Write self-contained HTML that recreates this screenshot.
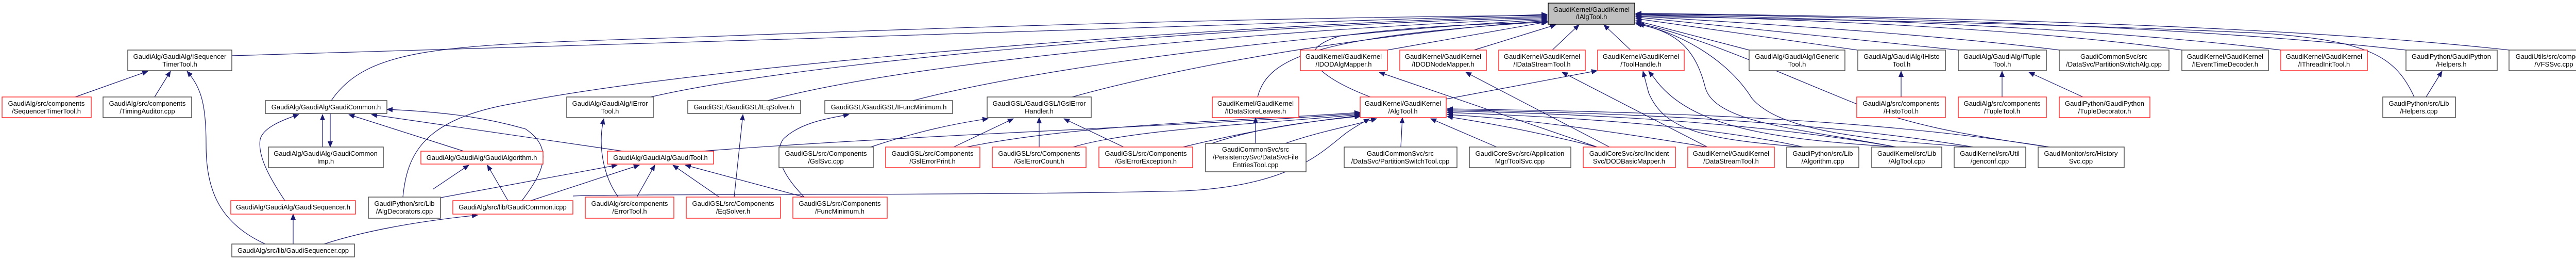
<!DOCTYPE html>
<html><head><meta charset="utf-8"><style>
html,body{margin:0;padding:0;background:#fff}
svg{display:block}
text{font-family:"Liberation Sans",sans-serif;font-size:13px;fill:#000;text-anchor:middle}
.b{fill:#fff;stroke:#404040;stroke-width:1.4}
.r{fill:#fff;stroke:#ff2020;stroke-width:1.4}
.g{fill:#bfbfbf;stroke:#000;stroke-width:1.4}
.e{fill:none;stroke:#191970;stroke-width:1.2}
</style></head><body>
<svg width="5048" height="504" viewBox="0 0 5048 504" xmlns="http://www.w3.org/2000/svg">
<defs><marker id="a" markerUnits="userSpaceOnUse" markerWidth="12" markerHeight="10" refX="11" refY="5" orient="auto"><path d="M0,0 L12,5 L0,10 z" fill="#191970"/></marker></defs>

<g marker-end="url(#a)">
<!-- into IAlgTool left -->
<path class="e" d="M450,108 C1200,90 2400,45 3003,28"/>
<path class="e" d="M643,195 C720,80 900,88 1400,70 C2200,40 2700,32 3003,30"/>
<path class="e" d="M782,382 C790,300 820,230 1000,200 C1400,120 2500,40 3003,32"/>
<path class="e" d="M1263,188 C1600,110 2500,45 3003,34"/>
<path class="e" d="M1490,195 C1800,110 2600,50 3003,36"/>
<path class="e" d="M1772,195 C2100,110 2700,55 3003,38"/>
<path class="e" d="M2081,188 C2400,100 2800,55 3003,40"/>
<path class="e" d="M2441,188 C2460,110 2560,70 3003,42"/>
<path class="e" d="M2660,188 C2560,150 2500,100 2600,70 C2750,50 2900,45 3003,44"/>
<path class="e" d="M2693,97 L3005,42"/>
<path class="e" d="M2861,97 L3020,48"/>
<path class="e" d="M3013,97 L3065,48"/>
<path class="e" d="M3165,97 L3113,48"/>
<!-- into IAlgTool right -->
<path class="e" d="M3395,97 L3175,40"/>
<path class="e" d="M3605,97 L3175,36"/>
<path class="e" d="M3801,97 L3175,33"/>
<path class="e" d="M3997,97 C3700,60 3300,40 3175,31"/>
<path class="e" d="M4235,97 C3900,50 3400,35 3175,29"/>
<path class="e" d="M4427,97 C4000,45 3400,32 3175,28"/>
<path class="e" d="M4670,97 C4200,45 3500,30 3175,27"/>
<path class="e" d="M4870,97 C4400,45 3600,30 3175,26"/>
<path class="e" d="M4686,188 C4650,110 4600,80 4400,65 C4000,45 3400,35 3175,32"/>
<path class="e" d="M3978,285 C3800,260 3700,240 3600,200 C3450,140 3300,70 3175,44"/>
<path class="e" d="M3680,285 C3500,250 3330,240 3310,170 C3290,90 3250,60 3175,46"/>
<path class="e" d="M3830,285 C3600,270 3450,250 3400,190 C3350,110 3250,60 3180,47"/>
<!-- ISequencerTimerTool -->
<path class="e" d="M146,188 L287,138"/>
<path class="e" d="M300,188 L331,138"/>
<path class="e" d="M515,473 C420,430 400,360 400,280 C400,200 390,170 363,138"/>
<!-- GaudiCommon -->
<path class="e" d="M626,285 L626,222"/>
<path class="e" d="M641,220 L641,285"/>
<path class="e" d="M553,389 C520,340 500,300 505,270 C510,250 540,235 580,222"/>
<path class="e" d="M900,293 L677,222"/>
<path class="e" d="M1209,293 L721,222"/>
<path class="e" d="M1013,389 C1050,340 1080,290 1020,250 C950,230 880,218 751,212"/>
<path class="e" d="M569,473 L569,415"/>
<path class="e" d="M629,473 C700,450 800,430 927,417"/>
<!-- GaudiAlgorithm.h -->
<path class="e" d="M840,367 L910,320"/>
<path class="e" d="M986,389 L946,320"/>
<!-- GaudiTool.h -->
<path class="e" d="M856,383 L1198,320"/>
<path class="e" d="M1030,389 L1241,320"/>
<path class="e" d="M1236,382 L1271,320"/>
<path class="e" d="M1396,382 L1306,320"/>
<path class="e" d="M1561,382 L1330,320"/>
<!-- ErrorTool/EqSolver/FuncMinimum -->
<path class="e" d="M1200,382 C1170,340 1160,280 1172,230"/>
<path class="e" d="M1425,382 L1442,222"/>
<path class="e" d="M1561,382 C1520,340 1500,300 1520,270 C1550,240 1600,230 1648,222"/>
<!-- IGslErrorHandler -->
<path class="e" d="M1690,285 C1780,255 1850,240 1918,230"/>
<path class="e" d="M1851,285 L1967,230"/>
<path class="e" d="M2017,285 L2017,228"/>
<path class="e" d="M2181,285 L2065,230"/>
<!-- AlgTool.h -->
<path class="e" d="M1363,293 C1800,260 2300,245 2640,220"/>
<path class="e" d="M1876,285 C2100,240 2400,235 2640,218"/>
<path class="e" d="M2083,285 C2200,250 2450,240 2640,222"/>
<path class="e" d="M2296,285 C2400,260 2500,240 2640,224"/>
<path class="e" d="M1112,380 C1200,375 1900,380 2300,370 C2500,360 2560,300 2610,260 C2630,245 2645,238 2658,230"/>
<path class="e" d="M2495,278 C2560,255 2620,245 2672,230"/>
<path class="e" d="M2719,285 L2722,228"/>
<path class="e" d="M2905,285 L2777,230"/>
<path class="e" d="M3100,285 C3000,260 2900,240 2809,226"/>
<path class="e" d="M3314,285 C3100,250 2950,230 2809,222"/>
<path class="e" d="M3500,285 C3300,240 3000,225 2809,218"/>
<path class="e" d="M3680,285 C3400,235 3050,220 2809,215"/>
<path class="e" d="M3830,285 C3500,230 3100,218 2809,213"/>
<path class="e" d="M3978,285 C3600,225 3150,216 2809,211"/>
<path class="e" d="M2352,278 C2450,245 2550,235 2641,225"/>
<!-- IDataStoreLeaves -->
<path class="e" d="M2437,278 L2437,228"/>
<!-- ToolHandle -->
<path class="e" d="M2807,192 L3100,137"/>
<path class="e" d="M3500,285 C3300,270 3230,250 3200,180 L3189,138"/>
<path class="e" d="M3680,285 C3450,270 3280,250 3210,150 L3200,138"/>
<!-- IDOD mappers / IDataStreamTool -->
<path class="e" d="M3100,285 L2677,140"/>
<path class="e" d="M3124,285 L2845,140"/>
<path class="e" d="M3314,285 L3032,140"/>
<!-- Histo/Tuple -->
<path class="e" d="M3690,188 L3690,138"/>
<path class="e" d="M3886,188 L3886,138"/>
<path class="e" d="M4043,188 L3938,140"/>
<!-- Helpers -->
<path class="e" d="M4709,188 L4740,138"/>
</g>

<!-- nodes -->
<rect class="g" x="3005" y="6" width="168" height="41"/><text x="3089" y="23">GaudiKernel/GaudiKernel</text><text x="3089" y="37">/IAlgTool.h</text>

<rect class="b" x="248" y="97" width="202" height="40"/><text x="349" y="114">GaudiAlg/GaudiAlg/ISequencer</text><text x="349" y="129">TimerTool.h</text>
<rect class="r" x="2524" y="97" width="169" height="40"/><text x="2608" y="114">GaudiKernel/GaudiKernel</text><text x="2608" y="129">/IDODAlgMapper.h</text>
<rect class="r" x="2717" y="97" width="168" height="40"/><text x="2801" y="114">GaudiKernel/GaudiKernel</text><text x="2801" y="129">/IDODNodeMapper.h</text>
<rect class="r" x="2909" y="97" width="168" height="40"/><text x="2993" y="114">GaudiKernel/GaudiKernel</text><text x="2993" y="129">/IDataStreamTool.h</text>
<rect class="r" x="3101" y="97" width="168" height="40"/><text x="3185" y="114">GaudiKernel/GaudiKernel</text><text x="3185" y="129">/ToolHandle.h</text>
<rect class="b" x="3395" y="97" width="186" height="40"/><text x="3488" y="114">GaudiAlg/GaudiAlg/IGeneric</text><text x="3488" y="129">Tool.h</text>
<rect class="b" x="3606" y="97" width="170" height="40"/><text x="3691" y="114">GaudiAlg/GaudiAlg/IHisto</text><text x="3691" y="129">Tool.h</text>
<rect class="b" x="3801" y="97" width="171" height="40"/><text x="3886" y="114">GaudiAlg/GaudiAlg/ITuple</text><text x="3886" y="129">Tool.h</text>
<rect class="b" x="3997" y="97" width="213" height="40"/><text x="4103" y="114">GaudiCommonSvc/src</text><text x="4103" y="129">/DataSvc/PartitionSwitchAlg.cpp</text>
<rect class="b" x="4235" y="97" width="168" height="40"/><text x="4319" y="114">GaudiKernel/GaudiKernel</text><text x="4319" y="129">/IEventTimeDecoder.h</text>
<rect class="r" x="4427" y="97" width="168" height="40"/><text x="4511" y="114">GaudiKernel/GaudiKernel</text><text x="4511" y="129">/IThreadInitTool.h</text>
<rect class="b" x="4670" y="97" width="177" height="40"/><text x="4758" y="114">GaudiPython/GaudiPython</text><text x="4758" y="129">/Helpers.h</text>
<rect class="b" x="4870" y="97" width="174" height="40"/><text x="4957" y="114">GaudiUtils/src/component</text><text x="4957" y="129">/VFSSvc.cpp</text>

<rect class="r" x="4" y="188" width="173" height="40"/><text x="90" y="205">GaudiAlg/src/components</text><text x="90" y="220">/SequencerTimerTool.h</text>
<rect class="b" x="200" y="188" width="172" height="40"/><text x="286" y="205">GaudiAlg/src/components</text><text x="286" y="220">/TimingAuditor.cpp</text>
<rect class="b" x="515" y="195" width="236" height="25"/><text x="633" y="212">GaudiAlg/GaudiAlg/GaudiCommon.h</text>
<rect class="b" x="1100" y="188" width="168" height="40"/><text x="1184" y="205">GaudiAlg/GaudiAlg/IError</text><text x="1184" y="220">Tool.h</text>
<rect class="b" x="1335" y="195" width="219" height="25"/><text x="1444" y="212">GaudiGSL/GaudiGSL/IEqSolver.h</text>
<rect class="b" x="1601" y="195" width="248" height="25"/><text x="1725" y="212">GaudiGSL/GaudiGSL/IFuncMinimum.h</text>
<rect class="b" x="1916" y="188" width="202" height="40"/><text x="2017" y="205">GaudiGSL/GaudiGSL/IGslError</text><text x="2017" y="220">Handler.h</text>
<rect class="r" x="2353" y="188" width="168" height="40"/><text x="2437" y="205">GaudiKernel/GaudiKernel</text><text x="2437" y="220">/IDataStoreLeaves.h</text>
<rect class="r" x="2640" y="188" width="167" height="40"/><text x="2723" y="205">GaudiKernel/GaudiKernel</text><text x="2723" y="220">/AlgTool.h</text>
<rect class="r" x="3604" y="188" width="172" height="40"/><text x="3690" y="205">GaudiAlg/src/components</text><text x="3690" y="220">/HistoTool.h</text>
<rect class="r" x="3801" y="188" width="171" height="40"/><text x="3886" y="205">GaudiAlg/src/components</text><text x="3886" y="220">/TupleTool.h</text>
<rect class="r" x="3997" y="188" width="176" height="40"/><text x="4085" y="205">GaudiPython/GaudiPython</text><text x="4085" y="220">/TupleDecorator.h</text>
<rect class="b" x="4625" y="188" width="141" height="40"/><text x="4695" y="205">GaudiPython/src/Lib</text><text x="4695" y="220">/Helpers.cpp</text>

<rect class="b" x="521" y="285" width="223" height="40"/><text x="632" y="302">GaudiAlg/GaudiAlg/GaudiCommon</text><text x="632" y="317">Imp.h</text>
<rect class="r" x="817" y="293" width="237" height="25"/><text x="935" y="310">GaudiAlg/GaudiAlg/GaudiAlgorithm.h</text>
<rect class="r" x="1179" y="293" width="206" height="25"/><text x="1282" y="310">GaudiAlg/GaudiAlg/GaudiTool.h</text>
<rect class="b" x="1512" y="285" width="183" height="40"/><text x="1603" y="302">GaudiGSL/src/Components</text><text x="1603" y="317">/GslSvc.cpp</text>
<rect class="r" x="1719" y="285" width="183" height="40"/><text x="1810" y="302">GaudiGSL/src/Components</text><text x="1810" y="317">/GslErrorPrint.h</text>
<rect class="r" x="1926" y="285" width="182" height="40"/><text x="2017" y="302">GaudiGSL/src/Components</text><text x="2017" y="317">/GslErrorCount.h</text>
<rect class="r" x="2133" y="285" width="182" height="40"/><text x="2224" y="302">GaudiGSL/src/Components</text><text x="2224" y="317">/GslErrorException.h</text>
<rect class="b" x="2340" y="278" width="195" height="55"/><text x="2437" y="294">GaudiCommonSvc/src</text><text x="2437" y="309">/PersistencySvc/DataSvcFile</text><text x="2437" y="324">EntriesTool.cpp</text>
<rect class="b" x="2609" y="285" width="219" height="40"/><text x="2718" y="302">GaudiCommonSvc/src</text><text x="2718" y="317">/DataSvc/PartitionSwitchTool.cpp</text>
<rect class="b" x="2852" y="285" width="197" height="40"/><text x="2950" y="302">GaudiCoreSvc/src/Application</text><text x="2950" y="317">Mgr/ToolSvc.cpp</text>
<rect class="r" x="3073" y="285" width="179" height="40"/><text x="3162" y="302">GaudiCoreSvc/src/Incident</text><text x="3162" y="317">Svc/DODBasicMapper.h</text>
<rect class="r" x="3276" y="285" width="168" height="40"/><text x="3360" y="302">GaudiKernel/GaudiKernel</text><text x="3360" y="317">/DataStreamTool.h</text>
<rect class="b" x="3468" y="285" width="140" height="40"/><text x="3538" y="302">GaudiPython/src/Lib</text><text x="3538" y="317">/Algorithm.cpp</text>
<rect class="b" x="3633" y="285" width="136" height="40"/><text x="3701" y="302">GaudiKernel/src/Lib</text><text x="3701" y="317">/AlgTool.cpp</text>
<rect class="b" x="3793" y="285" width="139" height="40"/><text x="3862" y="302">GaudiKernel/src/Util</text><text x="3862" y="317">/genconf.cpp</text>
<rect class="b" x="3956" y="285" width="167" height="40"/><text x="4039" y="302">GaudiMonitor/src/History</text><text x="4039" y="317">Svc.cpp</text>

<rect class="r" x="448" y="389" width="242" height="26"/><text x="569" y="406">GaudiAlg/GaudiAlg/GaudiSequencer.h</text>
<rect class="b" x="715" y="382" width="140" height="41"/><text x="785" y="399">GaudiPython/src/Lib</text><text x="785" y="414">/AlgDecorators.cpp</text>
<rect class="r" x="879" y="389" width="233" height="26"/><text x="995" y="406">GaudiAlg/src/lib/GaudiCommon.icpp</text>
<rect class="r" x="1136" y="382" width="172" height="41"/><text x="1222" y="399">GaudiAlg/src/components</text><text x="1222" y="414">/ErrorTool.h</text>
<rect class="r" x="1332" y="382" width="183" height="41"/><text x="1423" y="399">GaudiGSL/src/Components</text><text x="1423" y="414">/EqSolver.h</text>
<rect class="r" x="1539" y="382" width="183" height="41"/><text x="1630" y="399">GaudiGSL/src/Components</text><text x="1630" y="414">/FuncMinimum.h</text>

<rect class="b" x="450" y="473" width="238" height="25"/><text x="569" y="490">GaudiAlg/src/lib/GaudiSequencer.cpp</text>
</svg>
</body></html>
